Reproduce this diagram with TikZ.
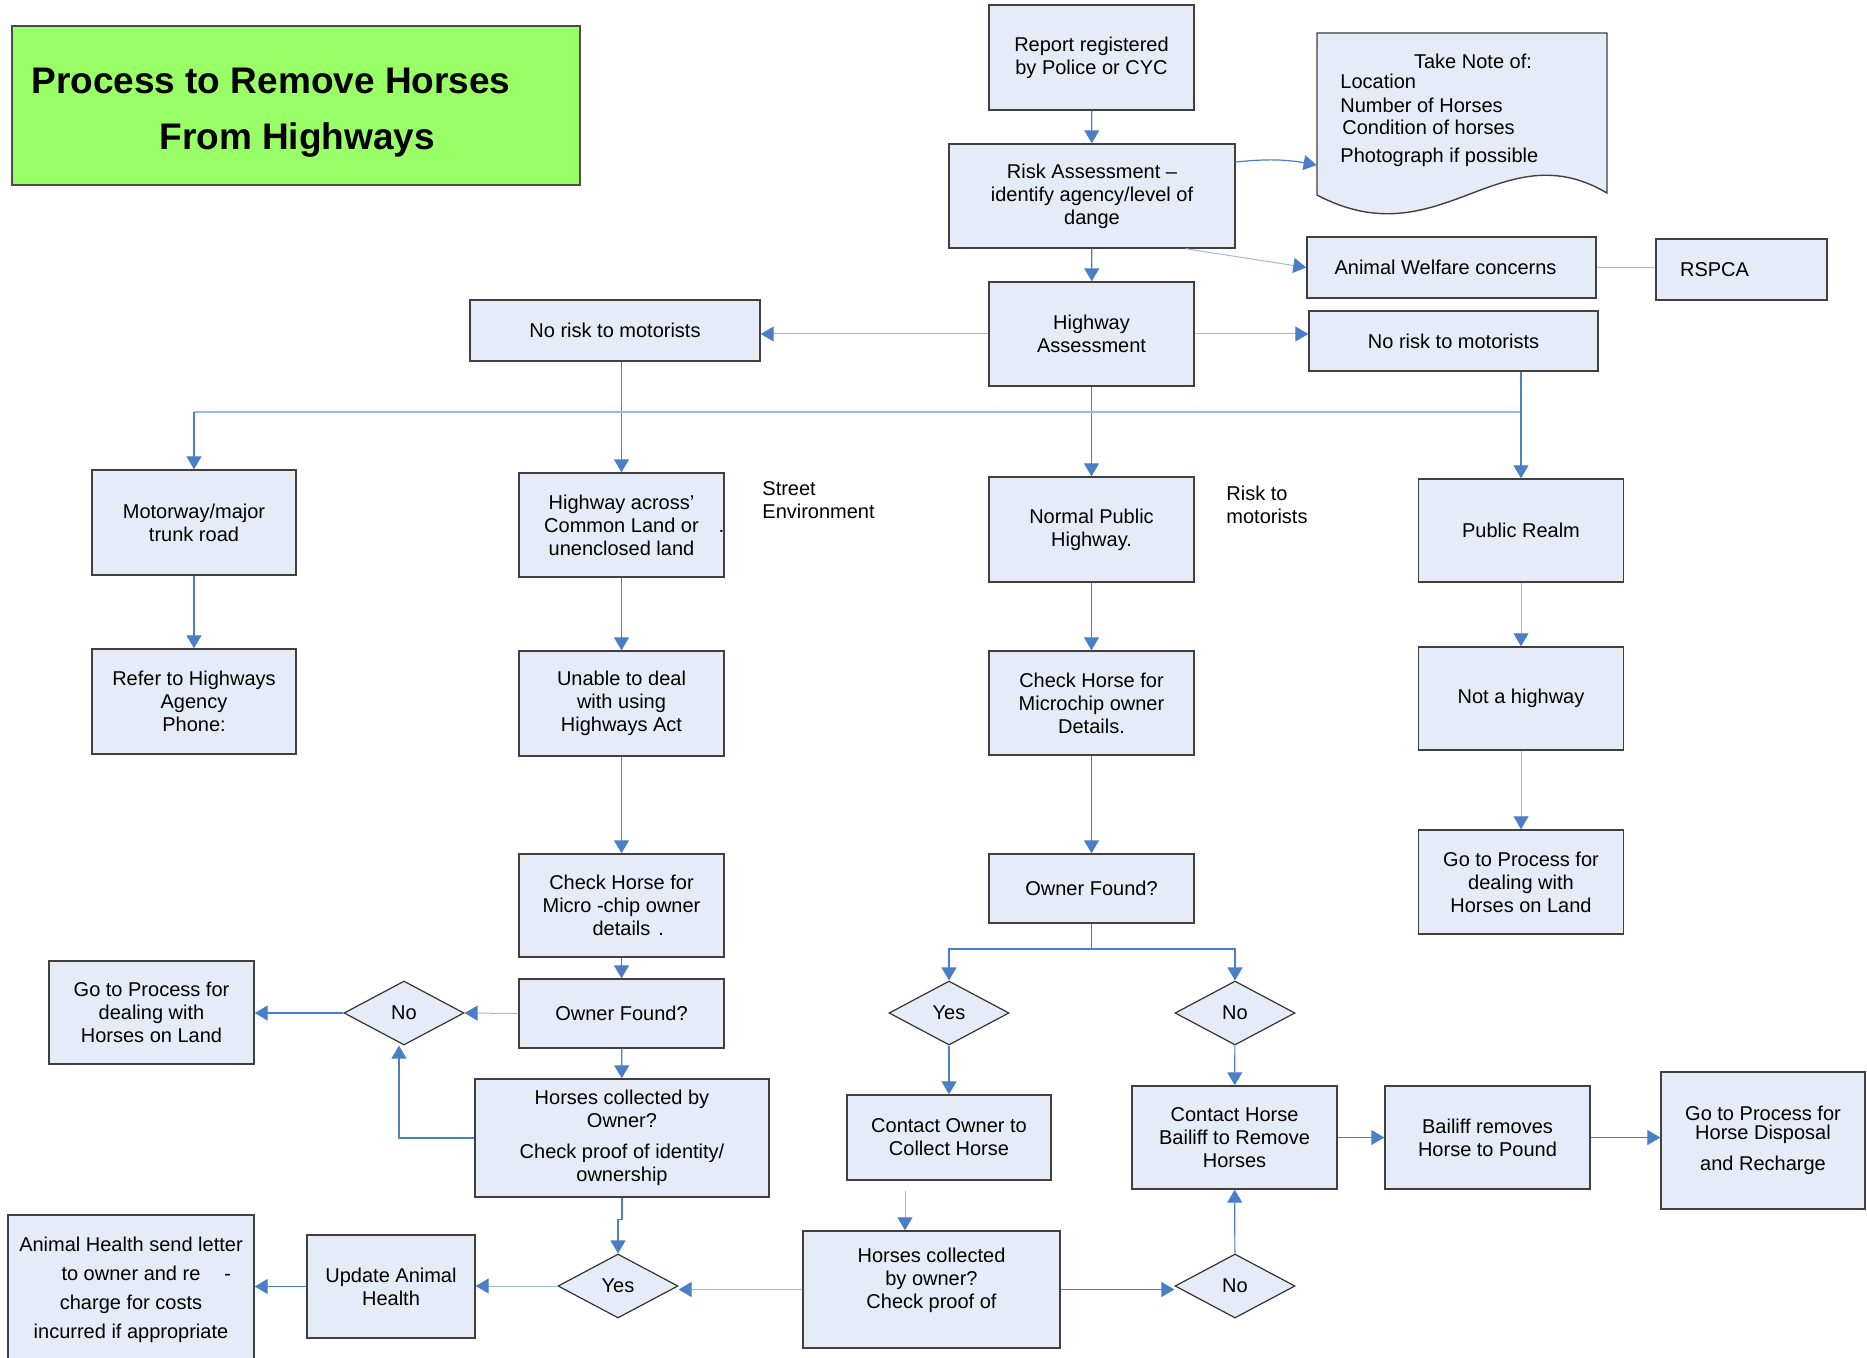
\documentclass[tikz,border=0pt]{standalone}
\usepackage{fontspec}
\setmainfont{Liberation Sans}
\usetikzlibrary{arrows.meta,shapes.geometric,positioning}

\definecolor{cajafondo}{HTML}{E6ECF7}
\definecolor{azul}{HTML}{4A7EC6}
\definecolor{azulclaro}{HTML}{9DB9E1}
\definecolor{verde}{HTML}{99FF66}

\tikzset{
  caja/.style={draw=black!75, fill=cajafondo, line width=0.7pt, align=center, inner sep=1pt, font=\fontsize{10}{11.5}\selectfont},
  rombo/.style={diamond, draw=black!80, fill=cajafondo, line width=0.6pt, minimum width=60pt, minimum height=32pt, inner sep=0pt, font=\fontsize{10}{11.5}\selectfont},
  flecha/.style={draw=azul, line width=0.6pt, -{Triangle[width=7.5pt,length=6.5pt,color=azul]}},
  flechaclara/.style={draw=azulclaro, line width=0.5pt, -{Triangle[width=7.5pt,length=6.5pt,color=azul]}},
  linea/.style={draw=azulclaro, line width=0.5pt},
  bus/.style={draw=azulclaro, line width=1.4pt},
  texto/.style={align=left, inner sep=0pt, font=\fontsize{10}{11.5}\selectfont},
}

\begin{document}
\begin{tikzpicture}[x=0.5pt, y=-0.5pt]
  \useasboundingbox (0,0) rectangle (1867,1358);

  % Titulo
  \node[draw=black!70, fill=verde, line width=0.6pt, minimum width=284pt, minimum height=79.5pt] (titulo) at (296,105.5) {};
  \node[anchor=north west, align=left, inner sep=0pt, font=\fontsize{18.5}{28}\selectfont\bfseries] (titulotexto) at (31,68) {Process to Remove Horses\\\hspace*{64pt}From Highways};

  % Parte superior
  \node[caja, minimum width=102.5pt, minimum height=52.5pt] (reporte) at (1091.5,57.5) {Report registered\\by Police or CYC};
  \node[caja, minimum width=143pt, minimum height=52pt] (riesgo) at (1092,196) {Risk Assessment –\\identify agency/level of\\dange};
  \node[caja, minimum width=102.5pt, minimum height=52pt] (evaluacion) at (1091.5,334) {Highway\\Assessment};
  \node[caja, minimum width=144.5pt, minimum height=30.5pt] (bienestar) at (1451.5,267.5) {Animal Welfare concerns\hspace*{6pt}};
  \node[caja, minimum width=85.5pt, minimum height=30.5pt] (rspca) at (1741.5,269.5) {RSPCA\hspace*{27pt}};
  \node[caja, minimum width=145pt, minimum height=30.5pt] (sinriesgoizq) at (615,330.5) {No risk to motorists};
  \node[caja, minimum width=144.5pt, minimum height=30pt] (sinriesgoder) at (1453.5,341) {No risk to motorists};

  % Nota (documento)
  \draw[draw=black!75, fill=cajafondo, line width=0.7pt] (1317,33) -- (1607,33) -- (1607,193)
    .. controls (1500,130) and (1440,260) .. (1317,195) -- cycle;
  \node[inner sep=0pt, minimum width=145pt, minimum height=80pt] (nota) at (1462,113) {};
  \node[texto] (notatitulo) at (1473,61) {Take Note of:};
  \node[texto, anchor=north west] (notalista) at (1340,74) {Location\\[0.5pt]Number of Horses\\[-0.5pt]\hspace*{1pt}Condition of horses\\[2.5pt]Photograph if possible};

  % Segunda fila
  \node[caja, minimum width=102pt, minimum height=52.5pt] (autopista) at (194,522.5) {Motorway/major\\trunk road};
  \node[caja, minimum width=102.5pt, minimum height=52pt] (comun) at (621.5,525) {Highway across’\\Common Land or\rlap{\hspace{10pt}.}\\unenclosed land};
  \node[caja, minimum width=102.5pt, minimum height=52.5pt] (normal) at (1091.5,529.5) {Normal Public\\Highway.};
  \node[caja, minimum width=102.5pt, minimum height=51.5pt] (publico) at (1521,530.5) {Public Realm};
  \node[texto, anchor=west] (calle) at (762,500) {Street\\Environment};
  \node[texto, anchor=west] (riesgomot) at (1226,505) {Risk to\\motorists};

  % Tercera fila
  \node[caja, minimum width=102pt, minimum height=52.5pt] (agencia) at (194,701.5) {Refer to Highways\\Agency\\Phone:};
  \node[caja, minimum width=102.5pt, minimum height=52.5pt] (incapaz) at (621.5,703.5) {Unable to deal\\with using\\Highways Act};
  \node[caja, minimum width=102.5pt, minimum height=52pt] (chipcentro) at (1091.5,703) {Check Horse for\\Microchip owner\\Details.};
  \node[caja, minimum width=102.5pt, minimum height=51.5pt] (nocarretera) at (1521,698.5) {Not a highway};
  \node[caja, minimum width=102.5pt, minimum height=52pt] (terrenoder) at (1521,882) {Go to Process for\\dealing with\\Horses on Land};

  % Rama izquierda
  \node[caja, minimum width=102.5pt, minimum height=51.5pt] (chipizq) at (621.5,905.5) {Check Horse for\\Micro -chip owner\\details\rlap{\hspace{4pt}.}};
  \node[caja, minimum width=102.5pt, minimum height=34.5pt] (duenoizq) at (621.5,1013.5) {Owner Found?};
  \node[rombo] (noizq) at (404,1013) {No};
  \node[caja, minimum width=102.5pt, minimum height=51.5pt] (terrenoizq) at (151.5,1012.5) {Go to Process for\\dealing with\\Horses on Land};
  \node[caja, minimum width=147pt, minimum height=59pt] (recogidoizq) at (622,1138) {Horses collected by\\Owner?\\[4pt]Check proof of identity/\\ownership};
  \node[rombo] (siabajo) at (618,1286) {Yes};
  \node[caja, minimum width=84pt, minimum height=51.5pt] (actualizar) at (391,1286.5) {Update Animal\\Health};
  \node[caja, minimum width=123pt, minimum height=75pt, font=\fontsize{10}{14.5}\selectfont] (carta) at (131,1290) {Animal Health send letter\\to owner and re\rlap{\hspace{12pt}-}\\charge for costs\\incurred if appropriate};

  % Rama central
  \node[caja, minimum width=102.5pt, minimum height=34.5pt] (duenocentro) at (1091.5,888.5) {Owner Found?};
  \node[rombo] (sicentro) at (949,1013) {Yes};
  \node[rombo] (nocentro) at (1235,1013) {No};
  \node[caja, minimum width=102pt, minimum height=42.5pt] (contactar) at (949,1137.5) {Contact Owner to\\Collect Horse};
  \node[caja, minimum width=102.5pt, minimum height=51.5pt] (alguacil) at (1234.5,1137.5) {Contact Horse\\Bailiff to Remove\\Horses};
  \node[caja, minimum width=102.5pt, minimum height=51.5pt] (corral) at (1487.5,1137.5) {Bailiff removes\\Horse to Pound};
  \node[caja, minimum width=102pt, minimum height=68.5pt] (disposicion) at (1763,1140.5) {Go to Process for\\[-2pt]Horse Disposal\\[4pt]and Recharge};
  \node[caja, minimum width=128.5pt, minimum height=58.5pt] (recogidoabajo) at (931.5,1289.5) {Horses collected\\by owner?\\Check proof of\\\mbox{}};
  \node[rombo] (noabajo) at (1235,1286) {No};

  % Conexiones superiores
  \draw[flecha] (reporte) -- (riesgo);
  \draw[flecha] (riesgo) -- (evaluacion);
  \draw[flecha] ([yshift=17pt]riesgo.east) to[bend left=8] ([yshift=-26pt]nota.west);
  \draw[flechaclara] ([xshift=-25pt]riesgo.south east) -- (bienestar.west);
  \draw[linea] (bienestar.east) -- (bienestar.east -| rspca.west);
  \draw[flechaclara] (evaluacion.west) -- (evaluacion.west -| sinriesgoizq.east);
  \draw[flechaclara] (evaluacion.east) -- (evaluacion.east -| sinriesgoder.west);
  \draw[flecha] (evaluacion) -- (normal);
  \draw[flecha] (sinriesgoizq.south -| comun.north) -- (comun.north);

  % Linea horizontal
  \coordinate (busder) at (1521,412);
  \draw[bus] (busder) -- (busder -| autopista.north);
  \draw[flecha] (busder -| autopista.north) -- (autopista.north);
  \draw[flecha] (sinriesgoder.south -| publico.north) -- (publico.north);

  % Columnas
  \draw[flecha] (autopista) -- (agencia);
  \draw[flecha] (comun) -- (incapaz);
  \draw[flecha] (incapaz) -- (chipizq);
  \draw[flecha] (chipizq) -- (duenoizq);
  \draw[flechaclara] (publico) -- (nocarretera);
  \draw[flechaclara] (nocarretera) -- (terrenoder);
  \draw[flecha] (normal) -- (chipcentro);
  \draw[flecha] (chipcentro) -- (duenocentro);

  % Rama izquierda
  \draw[flechaclara] (duenoizq.west) -- (noizq.east);
  \draw[flecha] (noizq.west) -- (noizq.west -| terrenoizq.east);
  \draw[flecha] (duenoizq) -- (recogidoizq);
  \draw[flecha] (recogidoizq.west) -| ([xshift=-2.5pt]noizq.south);
  \draw[flecha] (recogidoizq.south) -- ++(0,22) -| (siabajo.north);
  \draw[flechaclara] (siabajo.west) -- (siabajo.west -| actualizar.east);
  \draw[flecha] (actualizar.west) -- (actualizar.west -| carta.east);

  % Rama central
  \coordinate (division) at (1091.5,949);
  \draw[flecha] (duenocentro.south) -- (division) -| (sicentro.north);
  \draw[flecha] (division) -| (nocentro.north);
  \draw[flecha] (sicentro) -- (contactar);
  \draw[flecha] (nocentro) -- (alguacil);
  \draw[flechaclara] ([xshift=-22pt,yshift=-5pt]contactar.south) -- ([xshift=-22pt]contactar.south |- recogidoabajo.north);
  \draw[flecha] (alguacil) -- (corral);
  \draw[flecha] (corral.east) -- (corral.east -| disposicion.west);
  \draw[flechaclara] (recogidoabajo.west) -- (recogidoabajo.west -| siabajo.east);
  \draw[flecha] (recogidoabajo.east) -- (recogidoabajo.east -| noabajo.west);
  \draw[flecha] (noabajo) -- (alguacil);
\end{tikzpicture}
\end{document}
